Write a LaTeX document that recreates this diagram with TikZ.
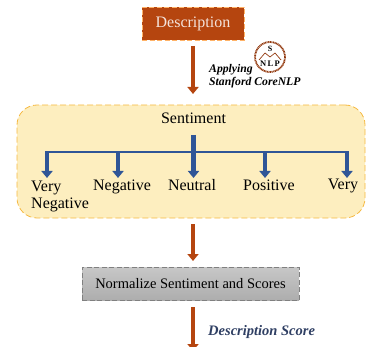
\documentclass[tikz,border=0pt]{standalone}
\usepackage{fontspec}
\setmainfont{Liberation Serif}
\usepackage[dvipsnames]{xcolor}
\usetikzlibrary{arrows.meta}
\definecolor{rust}{HTML}{B5450F}
\definecolor{sandfill}{HTML}{FDEEBF}
\definecolor{sandline}{HTML}{F5B942}
\definecolor{barblue}{HTML}{2F5597}
\definecolor{scoreblue}{HTML}{2F3F63}
\begin{document}
\begin{tikzpicture}[x=1pt,y=-1pt,
   descbox/.style={rectangle,draw=orange!60,dash pattern=on 5pt off 2.5pt,fill=rust,text=white!85!rust,minimum width=102pt,minimum height=33pt,font=\fontsize{16}{16}\selectfont},
   sentbox/.style={rectangle,draw=sandline,dash pattern=on 6pt off 3pt,thick,fill=sandfill,rounded corners=20pt,minimum width=348pt,minimum height=113pt},
   normbox/.style={rectangle,draw=gray,dash pattern=on 5pt off 2.5pt,top color=black!22,bottom color=black!32,minimum width=217pt,minimum height=33pt,font=\fontsize{14.5}{14.5}\selectfont},
   lbl/.style={font=\fontsize{16}{16}\selectfont,inner sep=0pt,anchor=base},
   note/.style={font=\fontsize{11.7}{12.5}\selectfont\bfseries\itshape,align=left,inner sep=0pt},
   flow/.style={rust,line width=4.5pt,-{Triangle[length=7pt,width=11pt]}},
   drop/.style={barblue,line width=4.5pt,-{Triangle[length=7pt,width=11pt]}}]
\useasboundingbox (0,0) rectangle (366,347);
\node[descbox] (descr) at (193,23.5) {\raisebox{-1.5pt}{Description}};
\node[sentbox] (senti) at (191,161.5) {};
\node[normbox] (norm) at (190.5,283.5) {Normalize Sentiment and Scores};
\coordinate (flowend) at (193,351);
\draw[flow] (193,46) -- (193,94);
\draw[flow] (193,224) -- (193,261);
\draw[flow] (193,307) -- (flowend);
% logo
\draw[rust!80!black,line width=1.8pt,dash pattern=on 1pt off 0.6pt] (270,57) circle (15);
\node[font=\fontsize{8}{8}\selectfont\bfseries,inner sep=0pt] (logos) at (270,49) {S};
\node[font=\fontsize{8.5}{8.5}\selectfont\bfseries,inner sep=0pt] (logon) at (270,64) {N\,L\,P};
\draw[rust!80!black,line width=0.7pt] (259,60) -- (265,53) -- (270,57) -- (275,53) -- (281,60);
\node[note,anchor=north west] (apply) at (209,64.5) {Applying\\Stanford CoreNLP};
\node[note,anchor=base west,text=scoreblue,font=\fontsize{14.5}{14.5}\selectfont\bfseries\itshape] (score) at (208,335) {Description Score};
% tree
\node[lbl] (title) at (193.5,124) {Sentiment};
\coordinate (hub) at (193.5,152);
\draw[barblue,line width=4.5pt] (193.5,135) -- (hub);
\draw[barblue,line width=2pt] (45,152) -- (349,152);
\foreach \x in {47,118,193.5,265,347} {
   \draw[drop] (\x,152) -- (\x,178);
}
\node[lbl,anchor=base west] (vneg1) at (31,191.5) {Very};
\node[lbl,anchor=base west] (vneg2) at (31,208.5) {Negative};
\node[lbl] (neg) at (122,190) {Negative};
\node[lbl] (neu) at (192,190) {Neutral};
\node[lbl] (pos) at (269,190) {Positive};
\node[lbl] (vpos) at (343,189.5) {Very};
\end{tikzpicture}
\end{document}
